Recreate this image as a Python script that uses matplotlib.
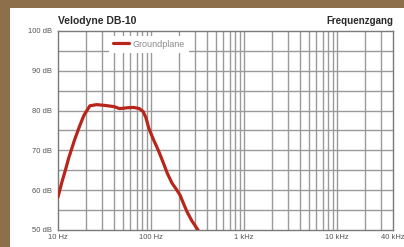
import numpy as np
import matplotlib.pyplot as plt
from matplotlib.patches import Rectangle

plt.rcParams['font.family'] = ['Liberation Sans', 'DejaVu Sans']

# frequency response
freq = [10, 11, 12, 13, 15, 17, 19, 22, 26, 32, 40, 46, 55, 65, 75, 82, 88,
        95, 105, 120, 135, 150, 168, 190, 205, 225, 245, 275, 300, 320]
level = [58.3, 62.0, 65.0, 68.0, 72.5, 76.0, 78.8, 81.2, 81.5, 81.3, 81.0, 80.5,
         80.7, 80.8, 80.5, 79.8, 78.3, 75.5, 73.0, 70.0, 67.0, 64.2, 61.8, 60.0,
         58.8, 56.5, 54.5, 52.3, 51.0, 50.0]
series_name = 'Groundplane'

y_ticks = [50, 60, 70, 80, 90, 100]
y_labels = ['50 dB', '60 dB', '70 dB', '80 dB', '90 dB', '100 dB']
x_ticks = [10, 100, 1000, 10000, 40000]
x_labels = ['10 Hz', '100 Hz', '1 kHz', '10 kHz', '40 kHz']

fig = plt.figure(figsize=(4.04, 2.47), dpi=100, facecolor='#8d704b')
fig.patches.append(Rectangle((10/404, 0), 1, 1 - 8/247, transform=fig.transFigure,
                             facecolor='white', edgecolor='none', zorder=-5))

ax = fig.add_axes([58/404, 17/247, 335/404, 199/247])
ax.set_zorder(2)
ax.set_facecolor('white')
ax.set_xscale('log')
ax.set_xlim(10, 40000)
ax.set_ylim(50, 100)

# grid: every 5 dB and the 1-2-3...9 decades
grid_col = '#9a9a9a'
for db in np.arange(55, 100, 5):
    ax.axhline(db, color=grid_col, lw=1.0, zorder=1)
for dec in [10, 100, 1000, 10000]:
    for m in range(2, 10):
        f = dec * m
        if f < 40000:
            ax.axvline(f, color=grid_col, lw=1.0, zorder=1)
for f in [100, 1000, 10000]:
    ax.axvline(f, color=grid_col, lw=1.0, zorder=1)
for s in ax.spines.values():
    s.set_color('#7a7a7a')
    s.set_linewidth(1.0)

ax.plot(freq, level, color='#b8261b', lw=2.3, solid_capstyle='round',
        label=series_name, zorder=3)

ax.set_xticks(x_ticks)
ax.set_xticklabels(x_labels)
ax.set_xticks([], minor=True)
ax.set_yticks(y_ticks)
ax.set_yticklabels(y_labels)
ax.tick_params(length=0, labelsize=5.5, colors='#555555', pad=4)
ax.tick_params(axis='x', pad=3)

leg = ax.legend(loc='upper left', bbox_to_anchor=(0.14, 1.0), frameon=True,
                fontsize=6.5, handlelength=1.7, handletextpad=0.45,
                borderpad=0.45, fancybox=False)
leg.get_frame().set_edgecolor('none')
leg.get_frame().set_facecolor('white')
leg.get_frame().set_alpha(1)
for t in leg.get_texts():
    t.set_color('#8a8a8a')

fig.text(58/404, 1 - 21/247, 'Velodyne DB-10', fontsize=7.5, color='#2a2a2a',
         ha='left', va='center', fontweight='bold')
fig.text(393/404, 1 - 21/247, 'Frequenzgang', fontsize=7, color='#2a2a2a',
         ha='right', va='center', fontweight='bold')

fig.savefig('out.png', dpi=100, facecolor=fig.get_facecolor())
